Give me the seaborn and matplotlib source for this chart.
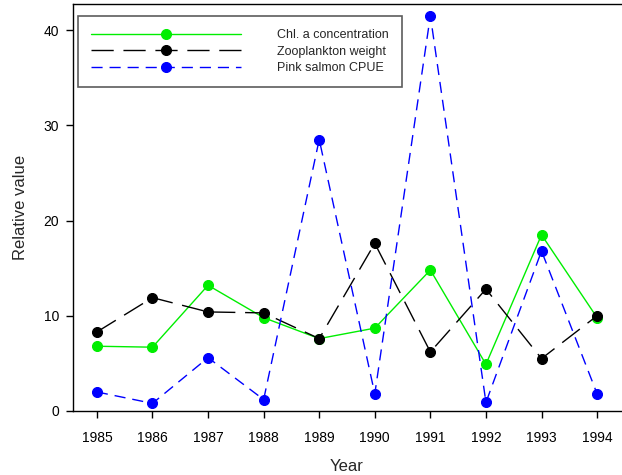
import matplotlib
matplotlib.use("Agg")
import matplotlib.pyplot as plt
import seaborn as sns
import pandas as pd

years = [1985, 1986, 1987, 1988, 1989, 1990, 1991, 1992, 1993, 1994]
chl = [6.8, 6.7, 13.2, 9.8, 7.6, 8.7, 14.8, 4.9, 18.5, 9.8]
zoo = [8.3, 11.9, 10.4, 10.3, 7.6, 17.6, 6.2, 12.8, 5.5, 10.0]
salmon = [2.0, 0.8, 5.6, 1.2, 28.5, 1.8, 41.5, 0.9, 16.8, 1.8]
labels = ["Chl. a concentration", "Zooplankton weight", "Pink salmon CPUE"]
y_ticks = [0, 10, 20, 30, 40]

sns.set_style("ticks")
plt.rcParams['font.family'] = ['Liberation Sans', 'DejaVu Sans']

fig = plt.figure(figsize=(6.22, 4.75), dpi=100)
ax = fig.add_axes([73/622, 64/475, 548/622, 407/475])

sns.lineplot(x=years, y=chl, ax=ax, color="#00ee00", marker="o", markersize=7.2,
             markeredgecolor="#00ee00", linewidth=1, label=labels[0])
sns.lineplot(x=years, y=zoo, ax=ax, color="black", marker="o", markersize=7.2,
             markeredgecolor="black", linewidth=1, linestyle=(0, (16, 7)), label=labels[1])
sns.lineplot(x=years, y=salmon, ax=ax, color="#0000ff", marker="o", markersize=7.2,
             markeredgecolor="#0000ff", linewidth=1, linestyle=(0, (8, 5)), label=labels[2])

ax.set_xlim(1984.57, 1994.43)
ax.set_ylim(0, 42.73)
ax.set_xticks(years)
ax.set_xticklabels([str(y) for y in years])
ax.set_yticks(y_ticks)
ax.tick_params(axis='both', labelsize=10, length=5, width=1, direction='out', color='black', labelcolor='black')
ax.tick_params(axis='x', pad=9.5)
ax.tick_params(axis='y', pad=5)
ax.set_xlabel("Year", fontsize=12, labelpad=10)
ax.set_ylabel("Relative value", fontsize=12, labelpad=11)
for s in ["left", "bottom", "top"]:
    ax.spines[s].set_color("black")
    ax.spines[s].set_linewidth(1)
ax.spines["right"].set_visible(False)

leg = ax.legend(loc="upper left", bbox_to_anchor=(78/622, 1 - 16/475),
                bbox_transform=fig.transFigure, borderaxespad=0, fontsize=9,
                handlelength=12.0, handletextpad=2.9, labelspacing=0.35,
                fancybox=False, frameon=True, borderpad=1.05)
leg.get_frame().set_edgecolor("#333333")
leg.get_frame().set_linewidth(1.2)

fig.savefig("out.png", dpi=100)
